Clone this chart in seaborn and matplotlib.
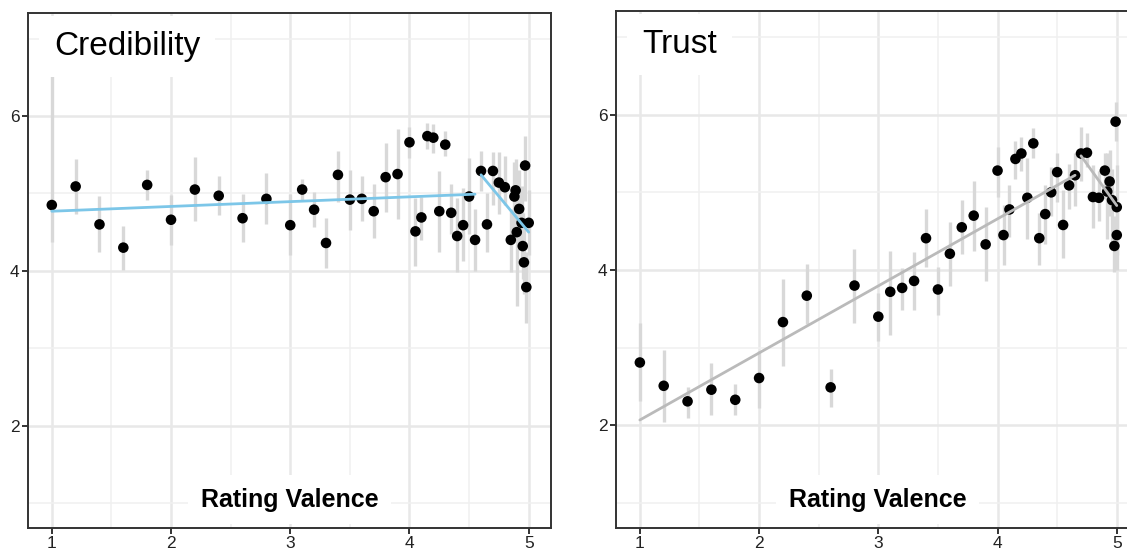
import matplotlib
matplotlib.use("Agg")
import matplotlib.pyplot as plt
import numpy as np
import pandas as pd
import seaborn as sns

# Credibility panel: rating valence, mean, CI low, CI high
cred_x = [1.00, 1.20, 1.40, 1.60, 1.80, 2.00, 2.20, 2.40, 2.60, 2.80, 3.00, 3.10,
          3.20, 3.30, 3.40, 3.50, 3.60, 3.70, 3.80, 3.90, 4.00, 4.05, 4.10, 4.15,
          4.20, 4.25, 4.30, 4.35, 4.40, 4.45, 4.50, 4.55, 4.60, 4.65, 4.70, 4.75,
          4.80, 4.85, 4.89, 4.88, 4.90, 4.92, 4.94, 4.95, 4.96, 4.97, 5.00, 4.98]
cred_y = [4.85, 5.09, 4.60, 4.30, 5.11, 4.66, 5.05, 4.97, 4.68, 4.93, 4.59, 5.05,
          4.79, 4.36, 5.24, 4.92, 4.93, 4.77, 5.21, 5.25, 5.66, 4.51, 4.69, 5.74,
          5.72, 4.77, 5.63, 4.75, 4.45, 4.59, 4.96, 4.40, 5.29, 4.60, 5.29, 5.14,
          5.08, 4.40, 5.04, 4.96, 4.50, 4.80, 4.62, 4.32, 4.11, 5.36, 4.62, 3.79]
cred_lo = [4.37, 4.74, 4.25, 4.01, 4.92, 4.34, 4.65, 4.72, 4.37, 4.60, 4.20, 4.90,
           4.56, 4.04, 4.89, 4.53, 4.65, 4.42, 4.76, 4.67, 5.46, 4.06, 4.40, 5.57,
           5.52, 4.25, 5.48, 4.47, 3.98, 4.13, 4.47, 4.00, 5.03, 4.24, 4.85, 4.74,
           4.85, 3.99, 4.60, 4.45, 3.55, 4.30, 4.10, 3.90, 3.70, 4.90, 4.20, 3.33]
cred_hi = [6.53, 5.44, 4.97, 4.58, 5.30, 4.98, 5.47, 5.22, 4.99, 5.26, 4.99, 5.19,
           5.02, 4.68, 5.55, 5.30, 5.22, 5.12, 5.65, 5.83, 5.86, 4.94, 4.96, 5.91,
           5.90, 5.29, 5.80, 5.12, 4.94, 5.07, 5.46, 4.80, 5.55, 5.01, 5.53, 5.53,
           5.48, 4.80, 5.45, 5.40, 5.10, 5.30, 5.10, 4.75, 4.55, 5.74, 5.05, 4.25]

# Trust panel
trust_x = [1.00, 1.20, 1.40, 1.60, 1.80, 2.00, 2.20, 2.40, 2.60, 2.80, 3.00, 3.10,
           3.20, 3.30, 3.40, 3.50, 3.60, 3.70, 3.80, 3.90, 4.00, 4.05, 4.10, 4.15,
           4.20, 4.25, 4.30, 4.35, 4.40, 4.45, 4.50, 4.55, 4.60, 4.65, 4.70, 4.75,
           4.80, 4.85, 4.90, 4.94, 4.92, 4.96, 5.00, 5.00, 4.98, 4.99]
trust_y = [2.81, 2.51, 2.31, 2.46, 2.33, 2.61, 3.33, 3.67, 2.49, 3.80, 3.40, 3.72,
           3.77, 3.86, 4.41, 3.75, 4.21, 4.55, 4.70, 4.33, 5.28, 4.45, 4.78, 5.43,
           5.50, 4.93, 5.63, 4.41, 4.72, 5.00, 5.26, 4.58, 5.09, 5.22, 5.50, 5.51,
           4.94, 4.93, 5.28, 5.14, 5.01, 4.90, 4.81, 4.45, 4.31, 5.91]
trust_lo = [2.31, 2.04, 2.10, 2.13, 2.13, 2.22, 2.76, 3.30, 2.24, 3.32, 3.09, 3.17,
            3.49, 3.49, 4.04, 3.42, 3.79, 4.21, 4.25, 3.86, 4.94, 4.07, 4.43, 5.17,
            5.28, 4.40, 5.44, 4.06, 4.33, 4.69, 4.87, 4.15, 4.78, 4.83, 5.14, 5.32,
            4.54, 4.63, 4.92, 4.70, 4.40, 4.30, 4.20, 4.00, 3.98, 5.66]
trust_hi = [3.32, 2.97, 2.49, 2.80, 2.53, 2.96, 3.88, 4.08, 2.73, 4.27, 3.70, 4.25,
            4.03, 4.23, 4.78, 4.04, 4.62, 4.90, 5.15, 4.81, 5.59, 4.84, 5.10, 5.66,
            5.71, 5.44, 5.83, 4.74, 5.10, 5.32, 5.51, 5.03, 5.37, 5.50, 5.84, 5.77,
            5.35, 5.28, 5.51, 5.55, 5.50, 5.30, 5.35, 4.90, 4.70, 6.16]

# piecewise fit lines (segment id, x, y)
cred_fit_seg = [0, 0, 1, 1]
cred_fit_x = [1.00, 4.55, 4.60, 5.00]
cred_fit_y = [4.77, 4.99, 5.24, 4.50]
trust_fit_seg = [0, 0, 1, 1]
trust_fit_x = [1.00, 4.65, 4.70, 5.00]
trust_fit_y = [2.07, 5.22, 5.47, 4.83]

x_ticks = [1, 2, 3, 4, 5]
y_ticks = [2, 4, 6]

sns.set_theme(style="white")
plt.rcParams['font.family'] = ['Liberation Sans', 'DejaVu Sans']

fig = plt.figure(figsize=(11.27, 5.52), dpi=100)
ax1 = fig.add_axes([0.0248, 0.0435, 0.464, 0.933])
ax2 = fig.add_axes([0.5466, 0.0435, 0.464, 0.936])

panels = [
    (ax1, "Credibility", cred_x, cred_y, cred_lo, cred_hi,
     cred_fit_seg, cred_fit_x, cred_fit_y, "#7cc6e8"),
    (ax2, "Trust", trust_x, trust_y, trust_lo, trust_hi,
     trust_fit_seg, trust_fit_x, trust_fit_y, "#bababa"),
]

for ax, title, xs, ys, lo, hi, seg, fx, fy, lcol in panels:
    df = pd.DataFrame({"x": xs, "y": ys, "lo": lo, "hi": hi})
    fit = pd.DataFrame({"seg": seg, "x": fx, "y": fy})

    ax.set_xlim(0.8, 5.186)
    ax.set_ylim(0.68, 7.33)

    # grid like theme_bw
    ax.set_xticks(x_ticks)
    ax.set_yticks(y_ticks)
    ax.set_xticks([1.5, 2.5, 3.5, 4.5], minor=True)
    ax.set_yticks([1, 3, 5, 7], minor=True)
    ax.grid(True, which="major", color="#e8e8e8", linewidth=1.8, zorder=0)
    ax.grid(True, which="minor", color="#f0f0f0", linewidth=1.1, zorder=0)
    ax.set_axisbelow(True)

    ax.vlines(df["x"], df["lo"], df["hi"], color="#d8d8d8", linewidth=2.4, zorder=2)
    sns.scatterplot(data=df, x="x", y="y", ax=ax, color="black", s=58,
                    edgecolor="none", zorder=3)
    sns.lineplot(data=fit, x="x", y="y", units="seg", estimator=None, ax=ax,
                 color=lcol, linewidth=2.0, zorder=4)

    for sp in ax.spines.values():
        sp.set_color("#333333")
        sp.set_linewidth(1.4)
    ax.tick_params(which="major", direction="out", length=4, width=1.4,
                   color="#333333", labelsize=12.5, labelcolor="#222222", pad=2,
                   bottom=True, left=True)
    ax.tick_params(which="minor", length=0)
    ax.set_xlabel("")
    ax.set_ylabel("")

    ax.text(0.05, 0.965, title, transform=ax.transAxes, fontsize=24,
            ha="left", va="top", color="black", zorder=5,
            bbox=dict(boxstyle="square,pad=0.45", facecolor="white", edgecolor="none"))
    ax.text(0.5, 0.055, "Rating Valence", transform=ax.transAxes, fontsize=18,
            fontweight="bold", ha="center", va="center", color="black", zorder=5,
            bbox=dict(boxstyle="square,pad=0.5", facecolor="white", edgecolor="none"))

fig.savefig("out.png", dpi=100)
